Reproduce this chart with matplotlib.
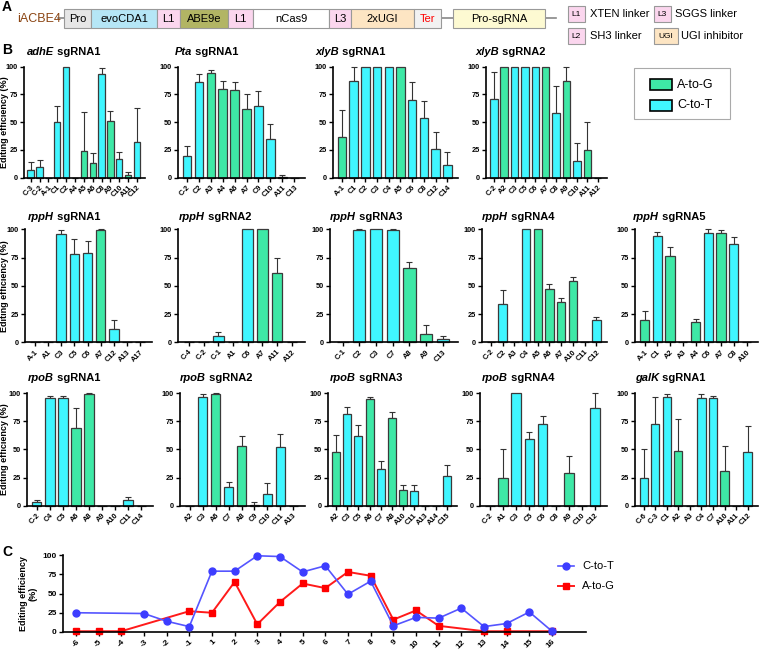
import numpy as np
import matplotlib.pyplot as plt
from matplotlib.patches import Rectangle
from matplotlib.lines import Line2D

plt.rcParams["font.family"] = ["Liberation Sans", "DejaVu Sans"]

W, H = 760, 653
GREEN = "#3ee8a6"
CYAN = "#40f6ff"
EDGE = "#3a3a3a"

# ---- panel B data (site, mean efficiency %, upper SD) ----
adhE1_sites = ["C-3", "C-2", "A-1", "C1", "C2", "A4", "A5", "A6", "C8", "A9", "C10", "A11", "C12"]
adhE1_eff = [7, 10, 0, 50, 100, 0, 24, 13, 93, 51, 17, 2, 32]
adhE1_err = [7, 6, 0, 15, 0, 0, 35, 9, 6, 9, 6, 3, 31]

pta1_sites = ["C-2", "C2", "A3", "A4", "A6", "A7", "C9", "C10", "A11", "C13"]
pta1_eff = [20, 86, 94, 80, 79, 62, 65, 35, 1, 0]
pta1_err = [9, 7, 3, 7, 7, 13, 13, 13, 1, 0]

xlyB1_sites = ["A-1", "C1", "C2", "C3", "C4", "A5", "C6", "C8", "C12", "C14"]
xlyB1_eff = [37, 87, 100, 100, 100, 100, 70, 54, 26, 11]
xlyB1_err = [24, 13, 0, 0, 0, 0, 16, 15, 15, 12]

xlyB2_sites = ["C-2", "A2", "C3", "C5", "C6", "A7", "C8", "A9", "C10", "A11", "A12"]
xlyB2_eff = [71, 100, 100, 100, 100, 100, 58, 87, 15, 25, 0]
xlyB2_err = [24, 0, 0, 0, 0, 0, 25, 13, 16, 25, 0]

rppH1_sites = ["A-1", "A1", "C3", "C5", "C6", "A7", "C12", "A13", "A17"]
rppH1_eff = [0, 0, 96, 78, 79, 99, 12, 0, 0]
rppH1_err = [0, 0, 3, 13, 11, 1, 8, 0, 0]

rppH2_sites = ["C-4", "C-2", "C-1", "A1", "C6", "A7", "A11", "A12"]
rppH2_eff = [0, 0, 6, 0, 100, 100, 61, 0]
rppH2_err = [0, 0, 3, 0, 0, 0, 14, 0]

rppH3_sites = ["C-1", "C2", "C3", "C7", "A8", "A9", "C13"]
rppH3_eff = [0, 99, 100, 99, 66, 7, 3]
rppH3_err = [0, 1, 0, 1, 5, 8, 3]

rppH4_sites = ["C-2", "C2", "A3", "C4", "A5", "A6", "A7", "A10", "C11", "C12"]
rppH4_eff = [0, 34, 0, 100, 100, 47, 36, 54, 0, 20]
rppH4_err = [0, 12, 0, 0, 0, 5, 3, 4, 0, 2]

rppH5_sites = ["A-1", "C1", "A2", "A3", "A4", "C6", "A7", "C8", "A10"]
rppH5_eff = [20, 94, 76, 0, 18, 97, 97, 87, 0]
rppH5_err = [8, 4, 8, 0, 3, 3, 2, 6, 0]

rpoB1_sites = ["C-2", "C4", "C5", "A6", "A8", "A9", "A10", "C11", "C14"]
rpoB1_eff = [3, 96, 96, 69, 99, 0, 0, 5, 0]
rpoB1_err = [2, 2, 2, 18, 1, 0, 0, 3, 0]

rpoB2_sites = ["A2", "C3", "A6", "C7", "A8", "C9", "C10", "C11", "A13"]
rpoB2_eff = [0, 97, 99, 17, 53, 1, 10, 52, 0]
rpoB2_err = [0, 2, 1, 4, 9, 2, 10, 12, 0]

rpoB3_sites = ["A2", "C3", "C5", "A6", "C7", "A8", "A10", "C11", "A13", "A14", "C15"]
rpoB3_eff = [48, 82, 62, 95, 33, 78, 14, 13, 0, 0, 26]
rpoB3_err = [15, 6, 10, 2, 7, 5, 4, 5, 0, 0, 10]

rpoB4_sites = ["C-2", "A1", "C3", "C5", "C6", "C8", "A9", "C10", "C12"]
rpoB4_eff = [0, 25, 100, 59, 73, 0, 29, 0, 87]
rpoB4_err = [0, 25, 0, 7, 7, 0, 15, 0, 13]

galK1_sites = ["C-6", "C-3", "C1", "A2", "A3", "C4", "C7", "A10", "A11", "C12"]
galK1_eff = [25, 73, 97, 49, 0, 96, 96, 31, 0, 48]
galK1_err = [25, 24, 2, 28, 0, 3, 2, 22, 0, 23]

# ---- panel C data ----
positions = ["-6", "-5", "-4", "-3", "-2", "-1", "1", "2", "3", "4", "5", "6", "7", "8",
             "9", "10", "11", "12", "13", "14", "15", "16"]
c_to_t = [25, np.nan, np.nan, 24, 14, 7, 79, 79, 99, 98, 78, 86, 49, 66,
          8, 19, 18, 31, 7, 11, 26, 1]
a_to_g = [1, 1, 1, np.nan, np.nan, 27, 25, 65, 10, 39, 63, 57, 78, 73,
          16, 28, 8, np.nan, 1, 1, np.nan, 1]

fig = plt.figure(figsize=(W / 100, H / 100), dpi=100)

# overlay in pixel coordinates for panel A, labels, titles, legends
ov = fig.add_axes([0, 0, 1, 1])
ov.set_xlim(0, W)
ov.set_ylim(H, 0)
ov.axis("off")
ov.patch.set_alpha(0)


def px_axes(x0, x1, ytop, ybot):
    a = fig.add_axes([x0 / W, 1 - ybot / H, (x1 - x0) / W, (ybot - ytop) / H])
    a.patch.set_alpha(0)
    return a


def style_axes(ax, fs):
    for s in ["top", "right"]:
        ax.spines[s].set_visible(False)
    for s in ["left", "bottom"]:
        ax.spines[s].set_linewidth(1.2)
    ax.tick_params(length=3, width=1, labelsize=fs, pad=1.5)
    for lab in ax.get_yticklabels():
        lab.set_fontweight("bold")


def bar_panel(ax, sites, eff, err):
    n = len(sites)
    x = np.arange(n)
    colors = [GREEN if s.startswith("A") else CYAN for s in sites]
    ax.bar(x, eff, width=0.72, color=colors, edgecolor=EDGE, linewidth=0.9,
           zorder=2, clip_on=False)
    err = np.array(err)
    eff = np.array(eff)
    m = err > 0
    ax.errorbar(x[m], eff[m], yerr=[np.zeros(m.sum()), err[m]], fmt="none",
                ecolor="#333333", elinewidth=0.8, capsize=2.2, capthick=0.8,
                zorder=1, clip_on=False)
    ax.set_xlim(-0.75, n - 0.1)
    ax.set_ylim(0, 100)
    ax.set_yticks([0, 25, 50, 75, 100])
    ax.set_xticks(x)
    ax.set_xticklabels(sites, rotation=45, ha="right", rotation_mode="anchor",
                       fontweight="bold")
    style_axes(ax, 5.3)


def title(tx, ty, gene, rest):
    t1 = ov.text(tx, ty, gene, fontsize=8, fontweight="bold", fontstyle="italic",
                 ha="left", va="center")
    ov.annotate(rest, xy=(1, 0), xycoords=t1, ha="left", va="bottom",
                fontsize=8, fontweight="bold")


# ---- panel A ----
ov.text(2, 7, "A", fontsize=10, fontweight="bold", ha="left", va="center")
ov.text(17, 19, "iACBE4", fontsize=9, color="#8b4513", ha="left", va="center")
ov.plot([58, 556], [18, 18], color="#888888", lw=1.2, zorder=1)
construct = [("Pro", 64, 91, "#e6e6e6", "black"),
             ("evoCDA1", 91, 157, "#b5e6f6", "black"),
             ("L1", 157, 180, "#fbd6ee", "black"),
             ("ABE9e", 180, 228, "#b2b564", "black"),
             ("L1", 228, 253, "#fbd6ee", "black"),
             ("nCas9", 253, 329, "white", "black"),
             ("L3", 329, 351, "#fbd6ee", "black"),
             ("2xUGI", 351, 414, "#fde5c3", "black"),
             ("Ter", 414, 441, "#f2f2f2", "red"),
             ("Pro-sgRNA", 453, 545, "#fdfad2", "black")]
for lab, x0, x1, fc, tc in construct:
    ov.add_patch(Rectangle((x0, 9), x1 - x0, 19, facecolor=fc, edgecolor="#999999",
                           lw=0.8, zorder=2))
    ov.text((x0 + x1) / 2, 18.5, lab, fontsize=8, color=tc, ha="center", va="center",
            zorder=3)

key = [("L1", 568, 585, 6, "#fbd6ee", "XTEN linker", 590),
       ("L3", 654, 671, 6, "#fbd6ee", "SGGS linker", 675),
       ("L2", 568, 585, 28, "#fbd6ee", "SH3 linker", 590),
       ("UGI", 654, 678, 28, "#fde5c3", "UGI inhibitor", 681)]
for lab, x0, x1, y0, fc, txt, tx in key:
    ov.add_patch(Rectangle((x0, y0), x1 - x0, 16, facecolor=fc, edgecolor="#999999",
                           lw=0.8))
    ov.text((x0 + x1) / 2, y0 + 8, lab, fontsize=6, ha="center", va="center")
    ov.text(tx, y0 + 8, txt, fontsize=8, ha="left", va="center")

# ---- panel B ----
ov.text(2, 50, "B", fontsize=10, fontweight="bold", ha="left", va="center")

rows = [(66.7, 177.7, 52), (229.3, 342.3, 217), (393.3, 505.7, 378)]
panels = [
    (0, "adhE", " sgRNA1", adhE1_sites, adhE1_eff, adhE1_err, 24, 145, 27),
    (0, "Pta", " sgRNA1", pta1_sites, pta1_eff, pta1_err, 178, 305, 175),
    (0, "xlyB", " sgRNA1", xlyB1_sites, xlyB1_eff, xlyB1_err, 333, 458, 315),
    (0, "xlyB", " sgRNA2", xlyB2_sites, xlyB2_eff, xlyB2_err, 486, 607, 475),
    (1, "rppH", " sgRNA1", rppH1_sites, rppH1_eff, rppH1_err, 25, 152, 28),
    (1, "rppH", " sgRNA2", rppH2_sites, rppH2_eff, rppH2_err, 178, 305, 179),
    (1, "rppH", " sgRNA3", rppH3_sites, rppH3_eff, rppH3_err, 330, 458, 330),
    (1, "rppH", " sgRNA4", rppH4_sites, rppH4_eff, rppH4_err, 482, 607, 482),
    (1, "rppH", " sgRNA5", rppH5_sites, rppH5_eff, rppH5_err, 635, 758, 633),
    (2, "rpoB", " sgRNA1", rpoB1_sites, rpoB1_eff, rpoB1_err, 27, 153, 28),
    (2, "rpoB", " sgRNA2", rpoB2_sites, rpoB2_eff, rpoB2_err, 180, 305, 180),
    (2, "rpoB", " sgRNA3", rpoB3_sites, rpoB3_eff, rpoB3_err, 328, 457, 330),
    (2, "rpoB", " sgRNA4", rpoB4_sites, rpoB4_eff, rpoB4_err, 480, 607, 482),
    (2, "galK", " sgRNA1", galK1_sites, galK1_eff, galK1_err, 635, 758, 635),
]
for r, gene, rest, sites, eff, err, x0, x1, tx in panels:
    ytop, ybot, ty = rows[r]
    ax = px_axes(x0, x1, ytop, ybot)
    bar_panel(ax, sites, eff, err)
    title(tx, ty, gene, rest)

for ytop, ybot, ty in rows:
    ov.text(5, (ytop + ybot) / 2, "Editing efficiency (%)", rotation=90, fontsize=6.5,
            fontweight="bold", ha="center", va="center")

# legend box for B
ov.add_patch(Rectangle((634, 68), 96, 51, facecolor="white", edgecolor="#aaaaaa", lw=0.8))
ov.add_patch(Rectangle((650, 79), 22, 11, facecolor=GREEN, edgecolor="black", lw=1.2))
ov.add_patch(Rectangle((650, 100), 22, 11, facecolor=CYAN, edgecolor="black", lw=1.2))
ov.text(677, 84.5, "A-to-G", fontsize=9, ha="left", va="center")
ov.text(677, 105.5, "C-to-T", fontsize=9, ha="left", va="center")

# ---- panel C ----
ov.text(2, 552, "C", fontsize=10, fontweight="bold", ha="left", va="center")
axc = px_axes(63, 586, 555, 632)
xc = np.arange(len(positions))
ct = np.array(c_to_t, dtype=float)
ag = np.array(a_to_g, dtype=float)
mt = ~np.isnan(ct)
mg = ~np.isnan(ag)
axc.plot(xc[mt], ct[mt], color="#5555ff", lw=1.2, marker="o", ms=5,
         markerfacecolor="#3d3dff", markeredgecolor="#3d3dff", clip_on=False, zorder=3)
axc.plot(xc[mg], ag[mg], color="#ff1a1a", lw=1.4, marker="s", ms=5,
         markerfacecolor="#ff0000", markeredgecolor="#ff0000", clip_on=False, zorder=2)
axc.set_xlim(-0.57, 22.5)
axc.set_ylim(0, 100)
axc.set_yticks([0, 25, 50, 75, 100])
axc.set_xticks(xc)
axc.set_xticklabels(positions, rotation=45, ha="right", rotation_mode="anchor",
                    fontweight="bold")
style_axes(axc, 6)
ov.text(28, 594, "Editing efficiency\n(%)", rotation=90, fontsize=6.5, fontweight="bold",
        ha="center", va="center", linespacing=1.0)

ov.add_line(Line2D([558, 574], [566, 566], color="#5555ff", lw=1.2))
ov.add_line(Line2D([558, 574], [586, 586], color="#ff1a1a", lw=1.4))
ov.plot([566], [566], "o", ms=5, color="#3d3dff")
ov.plot([566], [586], "s", ms=5, color="#ff0000")
ov.text(582, 566, "C-to-T", fontsize=8, ha="left", va="center")
ov.text(582, 586, "A-to-G", fontsize=8, ha="left", va="center")

fig.savefig("out.png", dpi=100)
